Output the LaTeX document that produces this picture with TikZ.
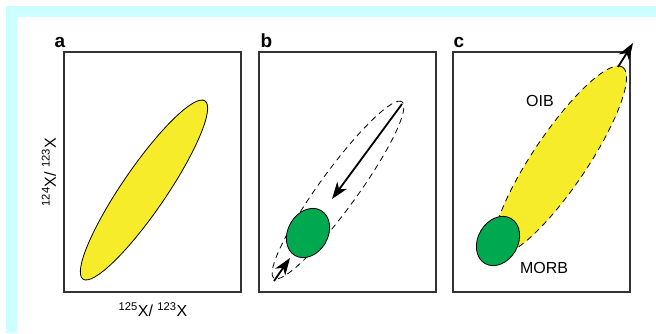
\documentclass[tikz,border=0pt]{standalone}
\usepackage{fontspec}
\setmainfont{Liberation Sans}
\usetikzlibrary{shapes.geometric,arrows.meta}
\definecolor{cyanband}{HTML}{CCFFFF}
\definecolor{yel}{HTML}{F7EC2A}
\definecolor{grn}{HTML}{00A84F}
\definecolor{frame}{HTML}{333333}
\tikzset{
  panelbox/.style={draw=frame,line width=1.4pt},
  panellabel/.style={anchor=base west,font=\fontsize{19}{22}\selectfont\bfseries},
  blob/.style={ellipse,inner sep=0pt,draw=black,line width=0.8pt},
  yblob/.style={blob,fill=yel},
  gblob/.style={blob,fill=grn},
  dblob/.style={blob,dashed,dash pattern=on 6pt off 4.5pt},
  arr/.style={line width=1.8pt,-{Stealth[length=17pt,width=12pt,inset=5pt]}},
  txt/.style={font=\fontsize{16}{19}\selectfont},
}
\begin{document}
\begin{tikzpicture}[x=1pt,y=-1pt]
\useasboundingbox (0,0) rectangle (656,333);
\fill[white] (0,0) rectangle (656,333);
\fill[cyanband] (6,6) rectangle (656,17);
\fill[cyanband] (6,6) rectangle (17,333);
% boxes
\draw[panelbox] (64,52) rectangle (241,292);
\draw[panelbox] (259,52) rectangle (436,292);
\draw[panelbox] (453,52) rectangle (630,292);
\node[panellabel] (la) at (51,47) {a};
\node[panellabel] (lb) at (257,47) {b};
\node[panellabel] (lc) at (450,47) {c};
% axis labels
\node[txt] (xl) at (153,310) {\textsuperscript{125}X/ \textsuperscript{123}X};
\node[txt,rotate=90] (yl) at (49,172) {\textsuperscript{124}X/ \textsuperscript{123}X};
% panel a
\node[yblob,minimum width=216pt,minimum height=44pt,rotate=55.6] (ea) at (144,190) {};
% panel b
\node[dblob,minimum width=218pt,minimum height=38pt,rotate=54] (eb) at (338,190) {};
\node[gblob,minimum width=52pt,minimum height=40pt,rotate=60] (gb) at (308,233) {};
\coordinate (b1) at (402,104);
\coordinate (b2) at (332,199);
\coordinate (b3) at (274,281);
\coordinate (b4) at (290,258);
\draw[arr] (b1) -- (b2);
\draw[arr] (b3) -- (b4);
% panel c
\node[dblob,fill=yel,minimum width=224pt,minimum height=54pt,rotate=56] (ec) at (560,160) {};
\node[gblob,minimum width=52pt,minimum height=40pt,rotate=60] (gc) at (498,241) {};
\coordinate (c1) at (618,67);
\coordinate (c2) at (633,43);
\draw[arr] (c1) -- (c2);
\node[txt] (oib) at (540,101) {OIB};
\node[txt] (morb) at (544,268) {MORB};
\end{tikzpicture}
\end{document}
